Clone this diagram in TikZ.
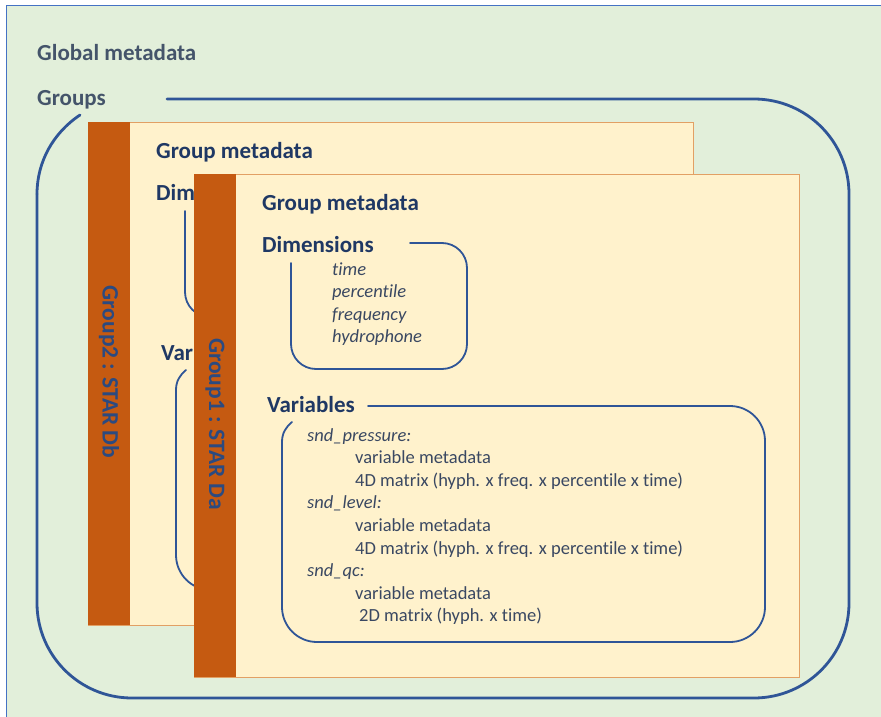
\documentclass[tikz,border=0pt]{standalone}
\usepackage{fontspec}
\setmainfont{Carlito}[Ligatures={NoCommon}]
\definecolor{bggreen}{HTML}{E2EFDA}
\definecolor{bgedge}{HTML}{4472C4}
\definecolor{cream}{HTML}{FFF2CC}
\definecolor{boxedge}{HTML}{E2A064}
\definecolor{barorange}{HTML}{C55A11}
\definecolor{navy}{HTML}{1F3864}
\definecolor{slate}{HTML}{44546A}
\definecolor{itemcol}{HTML}{3A4862}
\definecolor{linecol}{HTML}{2F5597}
\definecolor{labcol}{HTML}{2B4A80}
\tikzset{
  toptext/.style={anchor=base west, inner sep=0pt, text=slate, font=\fontsize{23}{27}\selectfont\bfseries},
  head/.style={anchor=base west, inner sep=0pt, text=navy, font=\fontsize{23}{27}\selectfont\bfseries},
  dimitem/.style={anchor=base west, inner sep=0pt, text=itemcol, font=\fontsize{18.5}{22}\selectfont\itshape},
  varitem/.style={anchor=base west, inner sep=0pt, text=itemcol, font=\fontsize{18.5}{22}\selectfont},
  grouplabel/.style={inner sep=0pt, text=labcol, rotate=-90, font=\fontsize{23.5}{28}\selectfont\bfseries},
  outerline/.style={draw=linecol, line width=2.8pt, line cap=round},
  innerline/.style={draw=linecol, line width=1.8pt, line cap=round},
  groupbox/.style={fill=cream, draw=boxedge, line width=1pt},
}
% frame of a group: box, bar, label, heading and the two brackets
\newcommand\groupframe[2]{%
  \path[groupbox] (0,0) rectangle (605,503);
  \fill[barorange] (0,0) rectangle (42,503);
  \node[grouplabel] (#1lab) at (21,250) {#2};
  \node[head] (#1meta) at (68,36) {Group metadata};
  \draw[innerline, rounded corners=25pt] (216,69) -- (273,69) -- (273,195) -- (97,195) -- (97,89);
  \draw[innerline, rounded corners=35pt] (174,232) -- (571,232) -- (571,468) -- (88,468) -- (88,268);
  \draw[innerline] (88,268) .. controls (88,259) and (92,253) .. (98,248);
}
\begin{document}
\begin{tikzpicture}[x=1pt,y=-1pt]
\useasboundingbox (0,0) rectangle (881,717);
\fill[white] (0,0) rectangle (881,717);
\fill[bggreen] (6,6) rectangle (881,717);
\draw[bgedge, line width=1pt] (6,717) -- (6,6) -- (881,6);
\node[toptext] (global) at (37,61) {Global metadata};
\node[toptext] (groups) at (37,106) {Groups};
\draw[outerline, rounded corners=95pt] (167,99) -- (849,99) -- (849,698) -- (37,698) -- (37,194);
\draw[outerline] (37,194) .. controls (37,162) and (53,133) .. (80,115);
% Group 2 (behind)
\begin{scope}[shift={(88,122)}]
  \groupframe{gb}{Group2 : STAR Db}
  \node[head] (gbdim) at (68,78) {Dim};
  \node[head] (gbvar) at (73,238) {Var};
\end{scope}
% Group 1 (front)
\begin{scope}[shift={(194,174)}]
  \groupframe{ga}{Group1 : STAR Da}
  \node[head] (gadim) at (68,78) {Dimensions};
  \node[dimitem] (gad1) at (138,101) {time};
  \node[dimitem] (gad2) at (138,123.6) {percentile};
  \node[dimitem] (gad3) at (138,146.2) {frequency};
  \node[dimitem] (gad4) at (138,168.8) {hydrophone};
  \node[head] (gavar) at (73,238) {Variables};
  \node[dimitem] (gav1) at (113,267) {snd\_pressure:};
  \node[varitem] (gav2) at (161,289.6) {variable metadata};
  \node[varitem] (gav3) at (161,312.2) {4D matrix (hyph. x freq. x percentile x time)};
  \node[dimitem] (gav4) at (113,334.8) {snd\_level:};
  \node[varitem] (gav5) at (161,357.4) {variable metadata};
  \node[varitem] (gav6) at (161,380) {4D matrix (hyph. x freq. x percentile x time)};
  \node[dimitem] (gav7) at (113,402.6) {snd\_qc:};
  \node[varitem] (gav8) at (161,425.2) {variable metadata};
  \node[varitem] (gav9) at (165,447.8) {2D matrix (hyph. x time)};
\end{scope}
\end{tikzpicture}
\end{document}
